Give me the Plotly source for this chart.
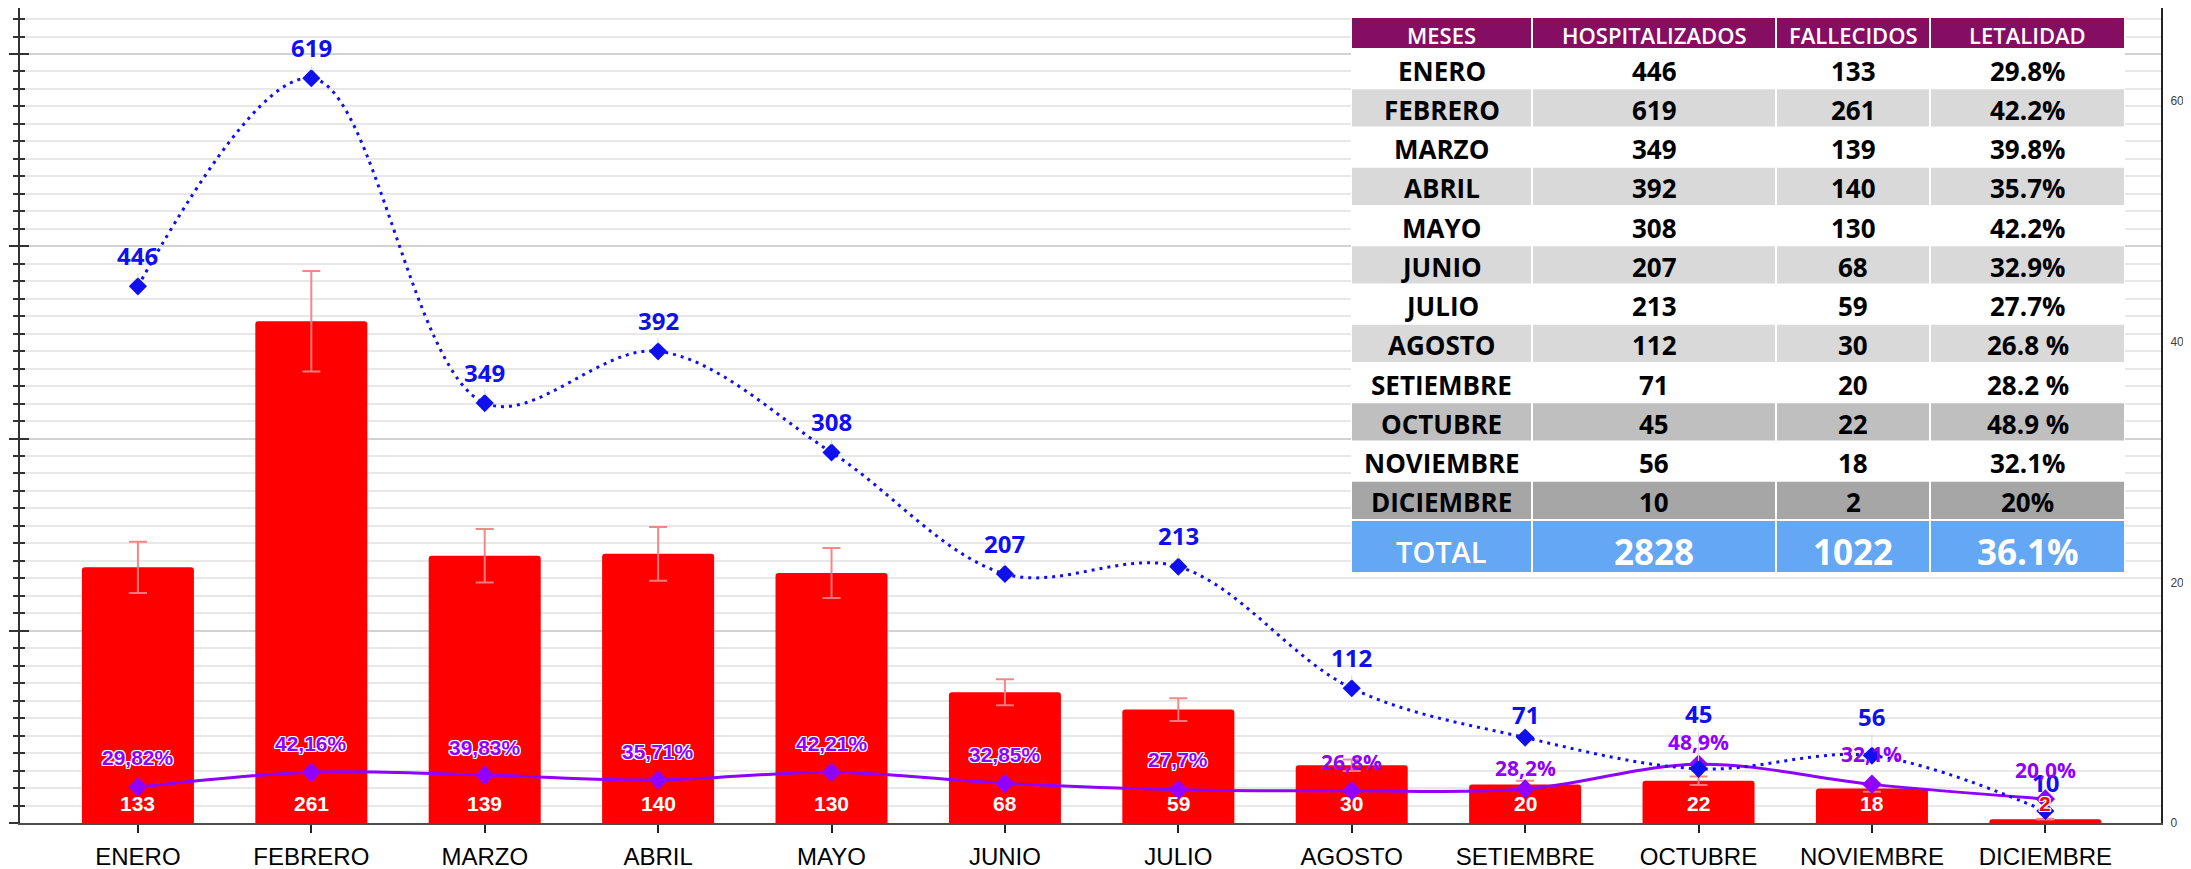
import plotly.graph_objects as go

# ---------------- DATA ----------------
meses = ["ENERO", "FEBRERO", "MARZO", "ABRIL", "MAYO", "JUNIO", "JULIO",
         "AGOSTO", "SETIEMBRE", "OCTUBRE", "NOVIEMBRE", "DICIEMBRE"]
hospitalizados = [446, 619, 349, 392, 308, 207, 213, 112, 71, 45, 56, 10]
fallecidos = [133, 261, 139, 140, 130, 68, 59, 30, 20, 22, 18, 2]
letalidad = [29.82, 42.16, 39.83, 35.71, 42.21, 32.85, 27.7, 26.8, 28.2, 48.9, 32.1, 20.0]
letalidad_labels = ["29,82%", "42,16%", "39,83%", "35,71%", "42,21%", "32,85%", "27,7%",
                    "26,8%", "28,2%", "48,9%", "32,1%", "20,0%"]
tabla_columnas = ["MESES", "HOSPITALIZADOS", "FALLECIDOS", "LETALIDAD"]
tabla_letalidad = ["29.8%", "42.2%", "39.8%", "35.7%", "42.2%", "32.9%", "27.7%",
                   "26.8 %", "28.2 %", "48.9 %", "32.1%", "20%"]
total_label = "TOTAL"
total_letalidad = "36.1%"
right_ticks = [0, 200, 400, 600]

# ---------------- STYLE / LAYOUT ----------------
OFF = 8                      # page body margin offset of the figure in the window
W, H = 2191 - OFF, 869
L, T = 12, 0
PW, PH = 2141, 815
R, B = W - L - PW, H - T - PH

RED = "#FF0000"
BLUE = "#1010EE"
PURPLE = "#9000FF"
HEADER = "#860E62"
TOTALC = "#64A7F5"
row_fills = ["#FFFFFF", "#D9D9D9", "#FFFFFF", "#D9D9D9", "#FFFFFF", "#D9D9D9",
             "#FFFFFF", "#D9D9D9", "#FFFFFF", "#BFBFBF", "#FFFFFF", "#A6A6A6"]
blue_shift = [31, 31, 31, 31, 31, 30, 31, 31, 23, 55, 39, 28]
purple_shift = [30, 29, 28, 29, 29, 29, 30, 29, 21, 22, 30, 29]
bar_label_colors = ["white"] * 11 + [RED]
OUTLINE = ("1px 1px 0 #fff, -1px -1px 0 #fff, 1px -1px 0 #fff, -1px 1px 0 #fff, "
           "0 1px 0 #fff, 0 -1px 0 #fff, 1px 0 0 #fff, -1px 0 0 #fff")


def px(xp):            # window pixel -> paper
    return (xp - OFF - L) / PW


def py(yp):
    return 1 - (yp - OFF - T) / PH


fig = go.Figure()

fig.add_trace(go.Bar(
    x=meses, y=fallecidos, yaxis="y", width=0.646,
    marker=dict(color=RED, cornerradius=3, line=dict(width=0)),
    error_y=dict(type="percent", value=10, color="rgba(242,130,130,0.95)",
                 thickness=2, width=9),
    hoverinfo="x+y",
))

fig.add_trace(go.Scatter(
    x=meses, y=letalidad, yaxis="y2", mode="lines+markers",
    line=dict(color=PURPLE, width=3, shape="spline", smoothing=1),
    marker=dict(symbol="diamond", size=15, color=PURPLE),
    cliponaxis=False,
))

fig.add_trace(go.Scatter(
    x=meses, y=hospitalizados, yaxis="y2", mode="lines+markers",
    line=dict(color=BLUE, width=3, dash="3px,5px", shape="spline", smoothing=1),
    marker=dict(symbol="diamond", size=14, color=BLUE),
    cliponaxis=False,
))

# empty trace to bind the cross-tick axis
fig.add_trace(go.Scatter(x=[meses[0]], y=[None], yaxis="y3", mode="markers",
                         showlegend=False, hoverinfo="skip"))

annotations = []
# blue labels (hospitalizados)
for m, v, s in zip(meses, hospitalizados, blue_shift):
    annotations.append(dict(
        x=m, y=v, xref="x", yref="y2", text=str(v), showarrow=True,
        ax=0, ay=-s, arrowhead=0, arrowwidth=1, arrowcolor="#DADADA", standoff=8,
        font=dict(family="Open Sans", size=24, color=BLUE, weight=700)))
# purple labels (letalidad)
for i, (m, v, t, s) in enumerate(zip(meses, letalidad, letalidad_labels, purple_shift)):
    annotations.append(dict(
        x=m, y=v, xref="x", yref="y2", text=t, showarrow=False, yshift=s,
        xanchor="center", yanchor="middle",
        font=dict(family="Liberation Sans" if i < 7 else "Open Sans", size=21,
                  color=PURPLE, weight=700, shadow=OUTLINE if i < 7 else "none")))
# bar labels (fallecidos)
for m, v, c in zip(meses, fallecidos, bar_label_colors):
    annotations.append(dict(
        x=m, y=0, xref="x", yref="y", text=str(v), showarrow=False, yshift=20,
        xanchor="center", yanchor="middle",
        font=dict(family="Liberation Sans", size=21, color=c, weight=700,
                  shadow=OUTLINE if c != "white" else "none")))

# ---------------- TABLE (shapes + annotations) ----------------
shapes = []
col_edges = [1351, 1532, 1776, 1930, 2125]
head_top, head_bot = 17, 49
row_h = 39.25
body_top = 49
tot_top = body_top + row_h * len(meses)
tot_bot = tot_top + 53

shapes.append(dict(type="rect", xref="paper", yref="paper", layer="above",
                   x0=px(col_edges[0]), x1=px(col_edges[-1]), y0=py(tot_bot), y1=py(head_top),
                   fillcolor="white", line=dict(width=0)))


def cell(x0, x1, y0, y1, fill):
    shapes.append(dict(type="rect", xref="paper", yref="paper", layer="above",
                       x0=px(x0 + 1), x1=px(x1 - 1), y0=py(y1 - 1), y1=py(y0 + 1),
                       fillcolor=fill, line=dict(width=0)))


def ctext(x0, x1, yc, text, size, color, weight, family="Open Sans"):
    annotations.append(dict(x=px((x0 + x1) / 2), y=py(yc), xref="paper", yref="paper",
                            xanchor="center", yanchor="middle",
                            text=text, showarrow=False,
                            font=dict(family=family, size=size, color=color, weight=weight)))


for j, name in enumerate(tabla_columnas):
    cell(col_edges[j], col_edges[j + 1], head_top, head_bot, HEADER)
    ctext(col_edges[j], col_edges[j + 1], (head_top + head_bot) / 2 + 2, name, 22, "white", 600)

for i, m in enumerate(meses):
    y0 = body_top + row_h * i
    y1 = y0 + row_h
    vals = [m, str(hospitalizados[i]), str(fallecidos[i]), tabla_letalidad[i]]
    for j, v in enumerate(vals):
        cell(col_edges[j], col_edges[j + 1], y0, y1, row_fills[i])
        ctext(col_edges[j], col_edges[j + 1], (y0 + y1) / 2 + 2, v, 26, "black", 700)

tot_vals = [total_label, str(sum(hospitalizados)), str(sum(fallecidos)), total_letalidad]
tot_sizes = [29, 35, 35, 35]
for j, v in enumerate(tot_vals):
    cell(col_edges[j], col_edges[j + 1], tot_top, tot_bot, TOTALC)
    ctext(col_edges[j], col_edges[j + 1], (tot_top + tot_bot) / 2 + 5, v, tot_sizes[j], "white",
          600 if j == 0 else 700)

# ---------------- AXES ----------------
y_top = PH / 1.9225       # left axis (fallecidos) scale, px per unit
y2_top = PH / 1.2033      # right axis scale

fig.update_layout(
    width=W, height=H,
    margin=dict(l=L, r=R, t=T, b=B),
    paper_bgcolor="white", plot_bgcolor="white",
    showlegend=False,
    xaxis=dict(type="category", categoryorder="array", categoryarray=meses,
               range=[-0.68, 11.667], showline=True, linecolor="#4D4D4D", linewidth=2,
               ticks="outside", ticklen=8, tickwidth=1.5, tickcolor="#222",
               tickfont=dict(family="Liberation Sans", size=24, color="black"),
               ticklabelstandoff=3, showgrid=False, zeroline=False),
    yaxis=dict(range=[0, y_top], showline=True, linecolor="#333", linewidth=2,
               ticks="outside", ticklen=9, tickwidth=2, tickcolor="#333",
               tick0=0, dtick=100, showticklabels=False,
               showgrid=True, gridcolor="#D2D2D2", gridwidth=2, zeroline=False,
               minor=dict(tick0=0, dtick=100 / 11, showgrid=True, gridcolor="#E8E8E8",
                          gridwidth=2, ticks="outside", ticklen=5, tickwidth=1.5,
                          tickcolor="#333")),
    yaxis2=dict(range=[0, y2_top], overlaying="y", side="right", anchor="x",
                tickvals=right_ticks, showline=True, linecolor="#222", linewidth=2,
                ticks="", showgrid=False, zeroline=False, ticklabelstandoff=5,
                tickfont=dict(family="Liberation Sans", size=12, color="#404040")),
    yaxis3=dict(matches="y", overlaying="y", side="left", anchor="x",
                ticks="inside", ticklen=9, tickwidth=2, tickcolor="#333",
                tick0=0, dtick=100, showticklabels=False, showgrid=False,
                showline=False, zeroline=False,
                minor=dict(tick0=0, dtick=100 / 11, ticks="inside", ticklen=5,
                           tickwidth=1.5, tickcolor="#333", showgrid=False)),
    annotations=annotations,
    shapes=shapes,
)

fig.write_html("out.html")
